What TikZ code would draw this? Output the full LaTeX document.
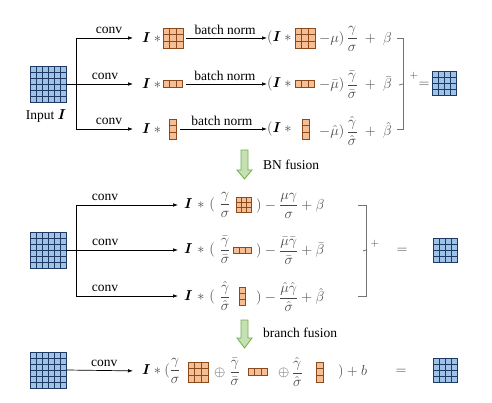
\documentclass[tikz,border=0pt]{standalone}
\usepackage{amsmath}
\usepackage{fontspec}
\setmainfont{Liberation Serif}
\usetikzlibrary{arrows.meta,calc}
\definecolor{gfill}{HTML}{9DC3E6}
\definecolor{gline}{HTML}{203864}
\definecolor{kfill}{HTML}{F6BE95}
\definecolor{kline}{HTML}{8A4A1C}
\definecolor{afill}{HTML}{C5E0B4}
\definecolor{aline}{HTML}{70AD47}
\newcommand\bI{{\color{black}\boldsymbol{I}}}
\tikzset{
  cells/.style n args={3}{path picture={
    \foreach \f in {#1}{\draw[#3,line width=0.7pt]
      ($(path picture bounding box.north west)!\f!(path picture bounding box.north east)$) --
      ($(path picture bounding box.south west)!\f!(path picture bounding box.south east)$);}
    \foreach \f in {#2}{\draw[#3,line width=0.7pt]
      ($(path picture bounding box.north west)!\f!(path picture bounding box.south west)$) --
      ($(path picture bounding box.north east)!\f!(path picture bounding box.south east)$);}
  }},
  bigmap/.style={draw=gline, fill=gfill, line width=0.9pt, minimum size=36, inner sep=0,
    cells={0.1667,0.3333,0.5,0.6667,0.8333}{0.1667,0.3333,0.5,0.6667,0.8333}{gline}},
  outmap/.style={draw=gline, fill=gfill, line width=0.9pt, minimum size=24, inner sep=0,
    cells={0.25,0.5,0.75}{0.25,0.5,0.75}{gline}},
  kbase/.style={draw=kline, fill=kfill, line width=0.7pt, inner sep=0},
  kAA/.style={kbase, minimum width=20, minimum height=20, cells={0.3333,0.6667}{0.3333,0.6667}{kline}},
  kAB/.style={kbase, minimum width=19, minimum height=7, cells={0.3333,0.6667}{0}{kline}},
  kBA/.style={kbase, minimum width=7, minimum height=20, cells={0}{0.3333,0.6667}{kline}},
  sAA/.style={kbase, minimum width=15, minimum height=15, cells={0.3333,0.6667}{0.3333,0.6667}{kline}},
  sAB/.style={kbase, minimum width=18, minimum height=6, cells={0.3333,0.6667}{0}{kline}},
  sBA/.style={kbase, minimum width=6, minimum height=18, cells={0}{0.3333,0.6667}{kline}},
  arr/.style={-{Latex[length=5pt,width=3.6pt]}, line width=0.7pt},
  lab/.style={font=\fontsize{13.5}{15}\selectfont, inner sep=0},
  mth/.style={font=\fontsize{13.5}{15}\selectfont, text=black!72, inner sep=0, anchor=west},
  sml/.style={font=\fontsize{11}{12}\selectfont, text=black!72, inner sep=0},
  brk/.style={draw=black!55, line width=0.8pt},
  fuse/.style={draw=aline, fill=afill, line width=0.8pt},
}
\begin{document}
\begin{tikzpicture}[x=1pt,y=-1pt]
\useasboundingbox (0,0) rectangle (492,403);
% ---------- top section ----------
\node[bigmap] (in1) at (48,84) {};
\node[lab] (inlab) at (46,116) {Input $\boldsymbol{I}$};
\coordinate (s1) at (76,84);
\node[mth] (a1) at (142,38) {$\bI*{}$};
\node[mth] (a2) at (142,84) {$\bI*{}$};
\node[mth] (a3) at (142,129) {$\bI*{}$};
\node[kAA] (ka1) at (173,38) {};
\node[kAB] (ka2) at (173,84) {};
\node[kBA] (ka3) at (173,129) {};
\draw[line width=0.7pt] (in1.east) -- (s1);
\draw[arr, shorten >=9pt] (s1) |- (a1.west) node[lab, pos=0.75, above=4pt] {conv};
\draw[arr, shorten >=9pt] (s1) -- (a2.west) node[lab, pos=0.44, above=4pt] {conv};
\draw[arr, shorten >=9pt] (s1) |- (a3.west) node[lab, pos=0.75, above=4pt] {conv};
\node[mth] (b1) at (267,38) {$(\bI*{}$};
\node[mth] (b2) at (267,84) {$(\bI*{}$};
\node[mth] (b3) at (267,129) {$(\bI*{}$};
\node[kAA] (kb1) at (305,38) {};
\node[kAB] (kb2) at (305,84) {};
\node[kBA] (kb3) at (306,129) {};
\node[mth] (c1) at (319,39) {$-\mu)\,\dfrac{\gamma}{\sigma}\;+\;\beta$};
\node[mth] (c2) at (319,85) {$-\bar\mu)\,\dfrac{\bar\gamma}{\bar\sigma}\;+\;\bar\beta$};
\node[mth] (c3) at (319,131) {$-\hat\mu)\,\dfrac{\hat\gamma}{\hat\sigma}\;+\;\hat\beta$};
\draw[arr, shorten <=3pt] (ka1.east) -- (b1.west) node[lab, midway, above=3.5pt] {batch norm};
\draw[arr, shorten <=3pt] (ka2.east) -- (b2.west) node[lab, midway, above=3.5pt] {batch norm};
\draw[arr, shorten <=3pt] (ka3.east) -- (b3.west) node[lab, midway, above=3.5pt] {batch norm};
\draw[brk] (397,38) -- (403,38) -- (403,129) -- (397,129);
\draw[brk] (399,85) -- (403,84);
\node[sml] (p1) at (414,76) {$+$};
\node[mth, anchor=center] (e1) at (424,85) {$=$};
\node[outmap] (o1) at (444,83) {};
% ---------- BN fusion ----------
\draw[fuse] (241,150) -- (248,150) -- (248,170) -- (252,170) -- (244.5,179) -- (237,170) -- (241,170) -- cycle;
\node[lab, anchor=west] (f1) at (263,165) {BN fusion};
% ---------- middle section ----------
\node[bigmap] (in2) at (48,250) {};
\coordinate (s2) at (76,250);
\node[mth] (d1) at (184,205) {$\bI\mkern2mu*\mkern2mu(\mkern6mu\dfrac{\gamma}{\sigma}$};
\node[mth] (d2) at (184,250) {$\bI\mkern2mu*\mkern2mu(\mkern6mu\dfrac{\bar\gamma}{\bar\sigma}$};
\node[mth] (d3) at (184,296) {$\bI\mkern2mu*\mkern2mu(\mkern6mu\dfrac{\hat\gamma}{\hat\sigma}$};
\draw[line width=0.7pt] (in2.east) -- (s2);
\draw[arr, shorten >=6pt] (s2) |- (d1.west) node[lab, pos=0.634, above=4pt] {conv};
\draw[arr, shorten >=6pt] (s2) -- (d2.west) node[lab, pos=0.27, above=4pt] {conv};
\draw[arr, shorten >=6pt] (s2) |- (d3.west) node[lab, pos=0.634, above=4pt] {conv};
\node[sAA] (kd1) at (244,205) {};
\node[sAB] (kd2) at (242,250) {};
\node[sBA] (kd3) at (242,296) {};
\node[mth] (g1) at (256,206) {$)-\dfrac{\mu\gamma}{\sigma}+\beta$};
\node[mth] (g2) at (256,251) {$)-\dfrac{\bar\mu\bar\gamma}{\bar\sigma}+\bar\beta$};
\node[mth] (g3) at (256,297) {$)-\dfrac{\hat\mu\hat\gamma}{\hat\sigma}+\hat\beta$};
\draw[brk] (358,205) -- (366,205) -- (366,296) -- (358,296);
\draw[brk] (363,251) -- (366,250);
\node[sml] (p2) at (375,244) {$+$};
\node[mth, anchor=center] (e2) at (402,251) {$=$};
\node[outmap] (o2) at (445,250) {};
% ---------- branch fusion ----------
\draw[fuse] (241,320) -- (248,320) -- (248,338) -- (252,338) -- (244.5,348) -- (237,338) -- (241,338) -- cycle;
\node[lab, anchor=west] (f2) at (263,333) {branch fusion};
% ---------- bottom section ----------
\node[bigmap] (in3) at (48,370) {};
\node[mth] (h1) at (142,371) {$\bI*(\dfrac{\gamma}{\sigma}$};
\draw[arr, shorten >=9pt] (in3.east) -- (h1.west) node[lab, midway, above=4pt] {conv};
\node[kAA] (kh1) at (198,372) {};
\node[mth] (h2) at (214,372) {$\oplus\;\dfrac{\bar\gamma}{\bar\sigma}$};
\node[kAB] (kh2) at (258,372) {};
\node[mth] (h3) at (278,372) {$\oplus\,\dfrac{\hat\gamma}{\hat\sigma}$};
\node[kBA] (kh3) at (320,372) {};
\node[mth] (h4) at (334,372) {$\;)+b$};
\node[mth, anchor=center] (e3) at (401,372) {$=$};
\node[outmap] (o3) at (445,370) {};
\end{tikzpicture}
\end{document}
